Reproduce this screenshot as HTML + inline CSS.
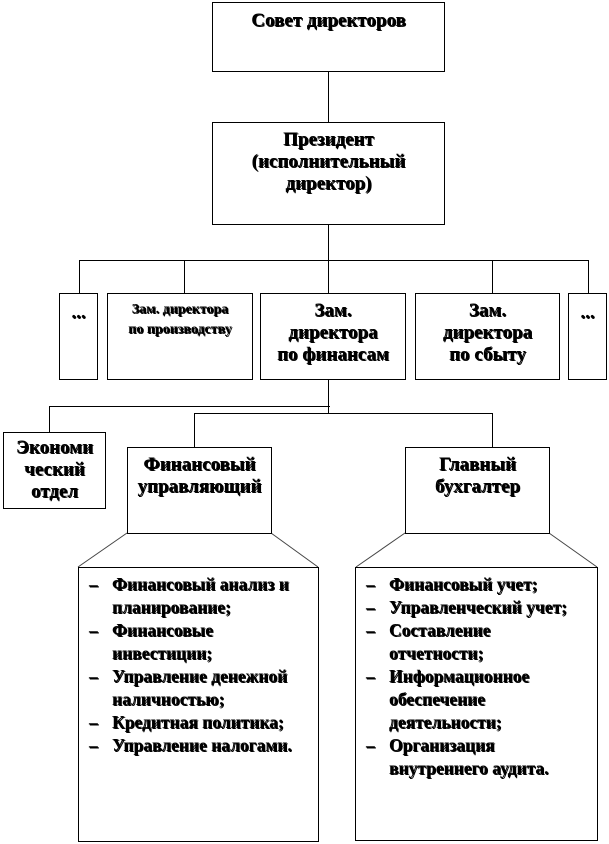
<!DOCTYPE html>
<html><head><meta charset="utf-8"><style>
body{margin:0;width:609px;height:844px;background:#fff;position:relative;overflow:hidden;font-family:"Liberation Serif",serif;font-weight:bold;color:#000}
.b{position:absolute;border:1px solid #000;box-sizing:border-box;background:#fff;text-align:center;font-size:19px;line-height:22px;text-shadow:1px 1px 0 #000;white-space:nowrap}
ul{list-style:none;margin:0;padding:0}
li{position:relative;padding-left:33px;text-align:left}
li:before{content:"–";position:absolute;left:10px}
svg{position:absolute;left:0;top:0}
</style></head><body>
<svg width="609" height="844">
<g stroke="#000" stroke-width="1" fill="none">
<line x1="328.5" y1="71" x2="328.5" y2="122"/>
<line x1="328.5" y1="224" x2="328.5" y2="293"/>
<line x1="79.5" y1="260.5" x2="588.5" y2="260.5"/>
<line x1="79.5" y1="260" x2="79.5" y2="293"/>
<line x1="184.5" y1="260" x2="184.5" y2="293"/>
<line x1="492.5" y1="260" x2="492.5" y2="293"/>
<line x1="588.5" y1="260" x2="588.5" y2="293"/>
<line x1="328.5" y1="379" x2="328.5" y2="413"/>
<line x1="49.5" y1="406.5" x2="330" y2="406.5"/>
<line x1="49.5" y1="406" x2="49.5" y2="432"/>
<line x1="194.5" y1="413.5" x2="492.5" y2="413.5"/>
<line x1="194.5" y1="413" x2="194.5" y2="447"/>
<line x1="492.5" y1="413" x2="492.5" y2="447"/>
<line x1="127" y1="533" x2="78" y2="567" stroke="#444"/>
<line x1="271" y1="533" x2="318" y2="567" stroke="#444"/>
<line x1="405" y1="533" x2="356" y2="567" stroke="#444"/>
<line x1="549" y1="533" x2="597" y2="567" stroke="#444"/>
</g></svg>
<div class="b" style="left:212px;top:2px;width:233px;height:70px;padding-top:7px">Совет директоров</div>
<div class="b" style="left:212px;top:122px;width:233px;height:103px;padding-top:6px">Президент<br>(исполнительный<br>директор)</div>
<div class="b" style="left:59px;top:293px;width:39px;height:87px;padding-top:8px">...</div>
<div class="b" style="left:107px;top:293px;width:146px;height:87px;padding-top:6px;font-size:14px;line-height:20px">Зам. директора<br>по производству</div>
<div class="b" style="left:260px;top:293px;width:146px;height:87px;padding-top:6px">Зам.<br>директора<br>по финансам</div>
<div class="b" style="left:415px;top:293px;width:145px;height:87px;padding-top:6px">Зам.<br>директора<br>по сбыту</div>
<div class="b" style="left:568px;top:293px;width:39px;height:87px;padding-top:8px">...</div>
<div class="b" style="left:3px;top:432px;width:103px;height:77px;padding-top:4px">Экономи<br>ческий<br>отдел</div>
<div class="b" style="left:127px;top:447px;width:145px;height:87px;padding-top:6px">Финансовый<br>управляющий</div>
<div class="b" style="left:405px;top:447px;width:145px;height:87px;padding-top:6px">Главный<br>бухгалтер</div>
<div class="b" style="left:78px;top:567px;width:241px;height:275px;padding-top:5px;font-size:17.5px;line-height:23px"><ul>
<li>Финансовый анализ и<br>планирование;</li><li>Финансовые<br>инвестиции;</li><li>Управление денежной<br>наличностью;</li><li>Кредитная политика;</li><li>Управление налогами.</li></ul></div>
<div class="b" style="left:355px;top:567px;width:243px;height:274px;padding-top:5px;font-size:17.5px;line-height:23px"><ul>
<li>Финансовый учет;</li><li>Управленческий учет;</li><li>Составление<br>отчетности;</li><li>Информационное<br>обеспечение<br>деятельности;</li><li>Организация<br>внутреннего аудита.</li></ul></div>
</body></html>
